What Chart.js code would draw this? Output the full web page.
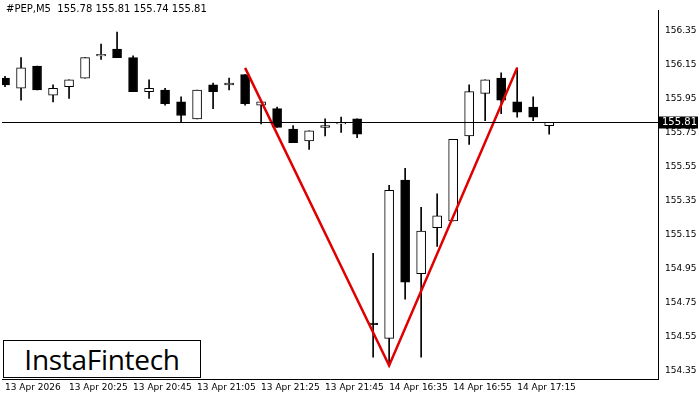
<!DOCTYPE html>
<html><head><meta charset="utf-8">
<script src="https://cdn.jsdelivr.net/npm/chart.js@4/dist/chart.umd.min.js"></script>
<style>html,body{margin:0;padding:0;background:#fff}#w{position:relative;width:700px;height:400px}
#t{position:absolute;left:6px;top:3px;font:10px "DejaVu Sans",sans-serif;color:#000}
#logo{position:absolute;left:3px;top:340px;width:196px;height:36px;border:1px solid #000;background:#fff;font:500 28px "Open Sans",sans-serif;line-height:36px;text-align:center;color:#000;letter-spacing:-0.3px}</style>
</head><body><div id="w"><canvas id="c" width="700" height="400"></canvas>
<div id="t">#PEP,M5&nbsp; 155.78 155.81 155.74 155.81</div>
<div id="logo">InstaFintech</div></div>
<script>
const times=["13 Apr 2026","20:10","20:15","20:20","13 Apr 20:25","20:30","20:35","20:40","13 Apr 20:45","20:50","20:55","21:00","13 Apr 21:05","21:10","21:15","21:20","13 Apr 21:25","21:30","21:35","21:40","13 Apr 21:45","21:50","21:55","16:30","14 Apr 16:35","16:40","16:45","16:50","14 Apr 16:55","17:00","17:05","17:10","14 Apr 17:15","17:20","17:25"];
const open =[156.07,156.01,156.14,155.97,156.02,156.07,156.20,156.24,156.19,155.99,156.00,155.93,155.83,156.03,156.03,156.09,155.91,155.89,155.77,155.70,155.78,155.80,155.83,154.63,154.54,155.47,154.92,155.19,155.23,155.73,155.98,156.07,155.93,155.90,155.79];
const high =[156.08,156.19,156.14,156.03,156.06,156.19,156.27,156.34,156.20,156.06,156.01,155.96,156.00,156.04,156.07,156.09,155.93,155.90,155.79,155.76,155.83,155.84,155.83,155.04,155.44,155.54,155.31,155.39,155.71,156.03,156.06,156.10,156.13,155.96,155.81];
const low  =[156.02,155.94,156.00,155.93,155.95,156.07,156.18,156.19,155.99,155.95,155.91,155.81,155.83,155.89,156.00,155.91,155.80,155.78,155.69,155.65,155.73,155.75,155.72,154.43,154.38,154.77,154.43,155.08,155.23,155.68,155.82,155.86,155.84,155.82,155.74];
const close=[156.03,156.13,156.00,156.01,156.06,156.19,156.21,156.19,155.99,156.01,155.92,155.85,156.00,155.99,156.04,155.92,155.93,155.78,155.69,155.76,155.79,155.80,155.74,154.62,155.41,154.87,155.17,155.26,155.71,155.99,156.06,155.94,155.87,155.84,155.81];
const patternIdx=[15,24,32];
const patternVal=[156.13,154.38,156.13];
const yTicks=[156.35,156.15,155.95,155.75,155.55,155.35,155.15,154.95,154.75,154.55,154.35];
const current=155.81;

const wick=open.map((o,i)=>({x:i,y:[low[i],high[i]]}));
const body=open.map((o,i)=>{const a=Math.min(o,close[i]),b=Math.max(o,close[i]);return {x:i,y:[a,b===a?a+0.004:b]};});
const bodyCol=open.map((o,i)=>close[i]>=o?'#fff':'#000');
const curPlugin={id:'cur',afterDatasetsDraw(ch){const {ctx,chartArea:a,scales:{y}}=ch;const py=Math.round(y.getPixelForValue(current))+0.5;
ctx.save();ctx.strokeStyle='#000';ctx.lineWidth=1;ctx.beginPath();ctx.moveTo(a.left,py);ctx.lineTo(a.right,py);ctx.stroke();
ctx.fillStyle='#000';ctx.fillRect(a.right,py-6,40,12);ctx.fillStyle='#fff';ctx.font='10px "DejaVu Sans"';ctx.textBaseline='middle';ctx.fillText(current.toFixed(2),a.right+4,py);ctx.restore();}};
new Chart(document.getElementById('c'),{
data:{datasets:[
{type:'bar',data:wick,backgroundColor:'#000',barThickness:1,grouped:false,order:3},
{type:'bar',data:body,backgroundColor:bodyCol,borderColor:'#000',borderWidth:1,borderSkipped:false,barThickness:9,grouped:false,order:2},
{type:'line',data:patternIdx.map((x,i)=>({x,y:patternVal[i]})),borderColor:'#e00000',borderWidth:2.5,pointRadius:0,order:1}
]},
options:{animation:false,responsive:false,layout:{padding:{top:10,left:2,right:0,bottom:7}},
plugins:{legend:{display:false},tooltip:{enabled:false}},
scales:{
x:{type:'linear',offset:false,min:-0.19,max:40.8,grid:{display:false,tickLength:3},border:{color:'#000'},
afterBuildTicks(s){s.ticks=[0,4,8,12,16,20,24,28,32].map(v=>({value:v}));},
ticks:{autoSkip:false,maxRotation:0,align:'start',padding:0,color:'#000',font:{size:9,family:'DejaVu Sans'},callback:v=>times[v]||''}},
y:{position:'right',min:154.30,max:156.47,grid:{display:false,tickLength:4},border:{color:'#000'},
afterBuildTicks(s){s.ticks=yTicks.map(v=>({value:v}));},afterFit(s){s.width=42;},
ticks:{color:'#000',padding:3,font:{size:9,family:'DejaVu Sans'},callback:v=>v.toFixed(2)}}
}},plugins:[curPlugin]});
</script></body></html>
